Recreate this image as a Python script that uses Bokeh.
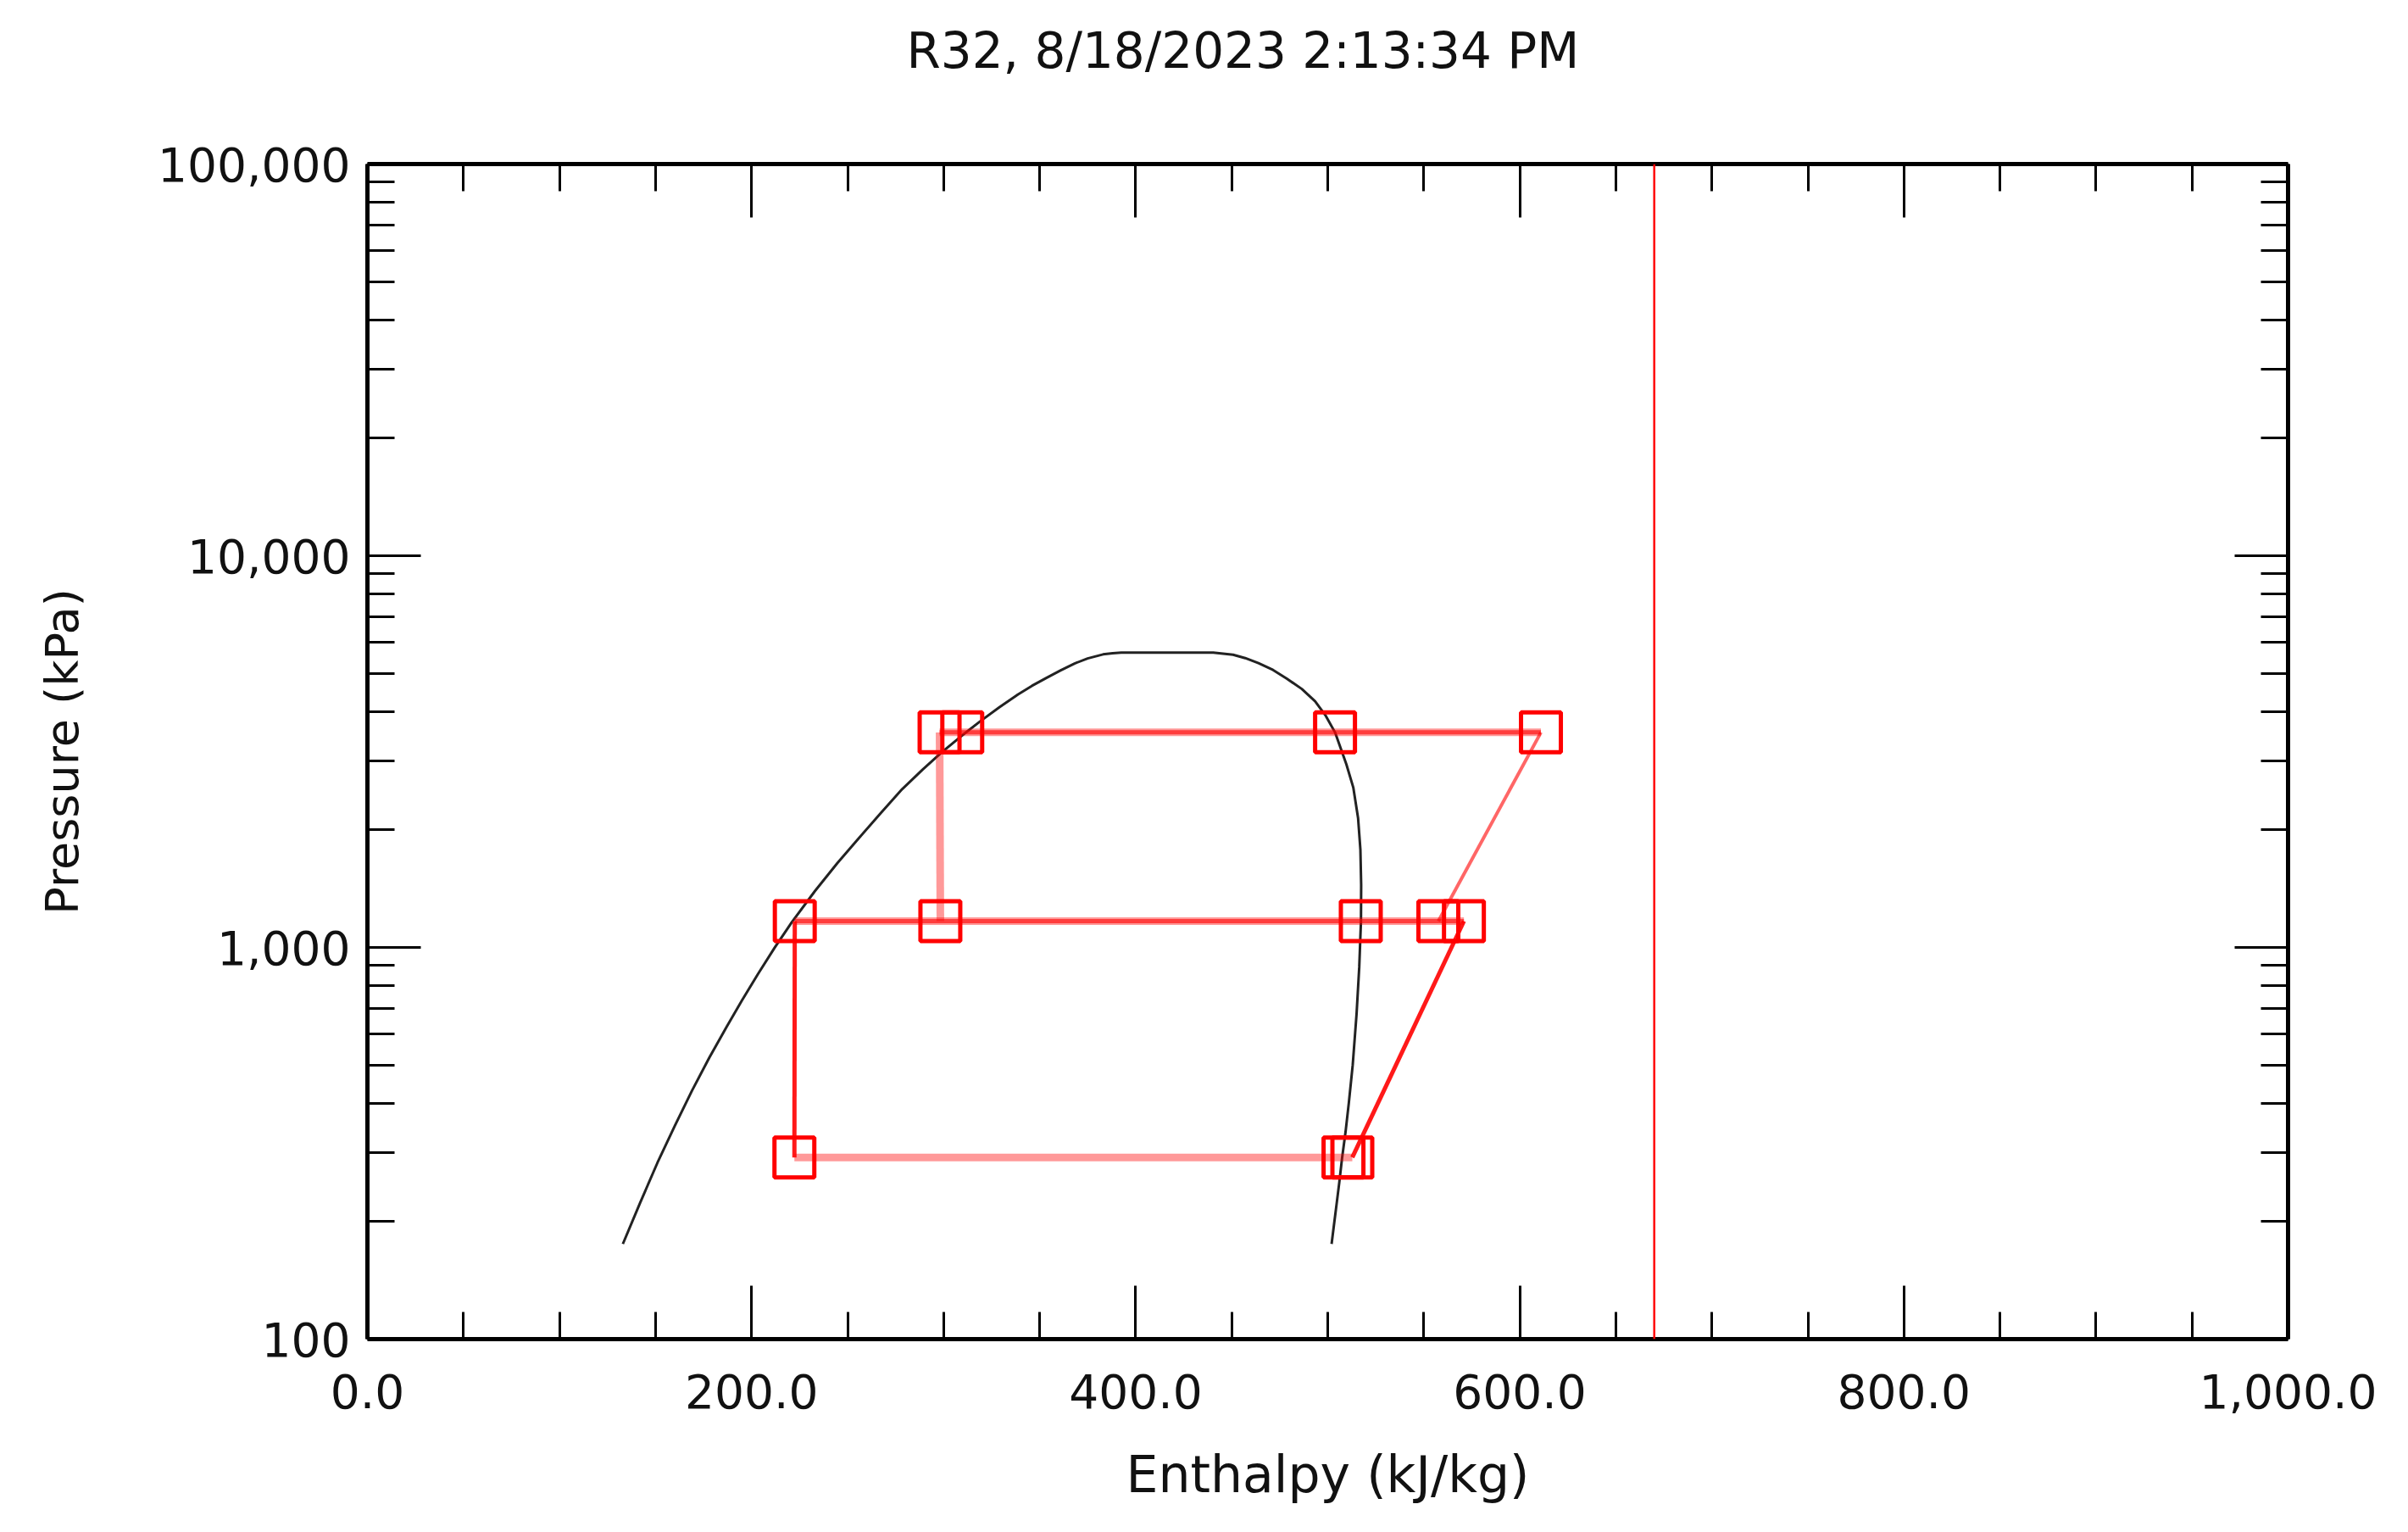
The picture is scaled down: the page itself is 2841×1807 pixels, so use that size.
from bokeh.plotting import figure
from bokeh.models import (FixedTicker, NumeralTickFormatter, LinearAxis, LogAxis,
                          Span, CustomJSTickFormatter, ColumnDataSource)
from bokeh.embed import file_html
from bokeh.resources import INLINE

# ---------------- data ----------------
title_text = "R32, 8/18/2023 2:13:34 PM"
x_label = "Enthalpy (kJ/kg)"
y_label = "Pressure (kPa)"

x_major_ticks = [0, 200, 400, 600, 800, 1000]
x_minor_ticks = [50, 100, 150, 250, 300, 350, 450, 500, 550, 650, 700, 750, 850, 900, 950]
y_major_ticks = [100, 1000, 10000, 100000]
y_minor_ticks = [200, 300, 400, 500, 600, 700, 800, 900,
                 2000, 3000, 4000, 5000, 6000, 7000, 8000, 9000,
                 20000, 30000, 40000, 50000, 60000, 70000, 80000, 90000]

# saturation dome, enthalpy kJ/kg vs pressure kPa (liquid side, then vapour side)
dome_liquid_h = [133, 142, 151, 160, 169, 178, 187, 195, 203.3, 212, 221, 233, 244.6, 256, 267,
                 278.4, 289, 299, 309.3, 319, 329, 338.8, 346, 353.5, 361, 368.2, 375, 383, 388, 392.5]
dome_liquid_p = [175, 223, 282, 350, 431, 523, 627, 732, 855, 998, 1161, 1393, 1640, 1905, 2194,
                 2535, 2843, 3147, 3467, 3776, 4102, 4429, 4655, 4877, 5100, 5308, 5469, 5600, 5640, 5660]
dome_vapour_h = [440.4, 450.7, 457.0, 463.9, 471.5, 478.7, 486.5, 493.4, 499.0, 503.8, 509.7, 513.3,
                 515.8, 517.0, 517.4, 517.3, 516.4, 515.0, 513.0, 511.0, 509.3, 507.5, 506.0, 504.6, 503.2, 502.0]
dome_vapour_p = [5660, 5590, 5480, 5319, 5110, 4855, 4570, 4250, 3900, 3540, 2935, 2561,
                 2138, 1778, 1445, 1167, 891, 676, 501, 402, 339, 291, 251, 221, 195, 175]

# cycle state points
state_h = [222.3, 508.2, 512.8, 570.9, 557.6, 517.2, 298.3, 222.5, 611.0, 503.8, 309.7, 297.9]
state_p = [291, 291, 291, 1167, 1167, 1167, 1167, 1167, 3540, 3540, 3540, 3540]

# connections between state points (index pairs)
links_strong = [(0, 7), (2, 3)]                      # expansion to low pressure, low-stage compression
links_medium = [(3, 7), (8, 11)]                     # intermediate and condenser rows
links_faint = [(0, 2), (11, 6), (7, 3), (11, 8)]     # evaporator, high expansion, rows
links_upper = [(4, 8)]                               # high-stage compression

reference_enthalpy = 670.0

# ---------------- figure ----------------
FONT = "DejaVu Sans"
TXT = "#111111"

p = figure(frame_width=2266, frame_height=1386,
           x_range=(0, 1000), y_range=(100, 100000), y_axis_type="log",
           title=title_text,
           output_backend="svg", toolbar_location=None,
           min_border_left=433, min_border_right=121,
           min_border_top=193, min_border_bottom=214,
           background_fill_color="white", border_fill_color="white",
           outline_line_color=None)
p.xgrid.visible = False
p.ygrid.visible = False

p.title.text_font = FONT
p.title.text_font_size = "58px"
p.title.text_font_style = "normal"
p.title.text_color = TXT
p.title.align = "left"
p.title.offset = 636
p.title.standoff = 0


def style_axis(ax, ticks, minor, show_labels):
    ax.ticker = FixedTicker(ticks=ticks, minor_ticks=minor)
    ax.axis_line_width = 5
    ax.axis_line_color = "black"
    ax.major_tick_in = 63
    ax.major_tick_out = 0
    ax.minor_tick_in = 32
    ax.minor_tick_out = 0
    ax.major_tick_line_width = 3
    ax.minor_tick_line_width = 3
    ax.major_tick_line_color = "black"
    ax.minor_tick_line_color = "black"
    ax.major_label_text_font = FONT
    ax.major_label_text_font_size = "55px"
    ax.major_label_text_color = TXT
    ax.axis_label_text_font = FONT
    ax.axis_label_text_font_style = "normal"
    ax.axis_label_text_color = TXT
    if not show_labels:
        ax.formatter = CustomJSTickFormatter(code="return ''")
        ax.major_label_standoff = 0


xa = p.xaxis[0]
style_axis(xa, x_major_ticks, x_minor_ticks, True)
xa.formatter = NumeralTickFormatter(format="0,0.0")
xa.major_label_standoff = 41
xa.axis_label = x_label
xa.axis_label_text_font_size = "60px"
xa.axis_label_standoff = 40

ya = p.yaxis[0]
style_axis(ya, y_major_ticks, y_minor_ticks, True)
ya.formatter = NumeralTickFormatter(format="0,0")
ya.major_label_standoff = 20
ya.axis_label = y_label
ya.axis_label_text_font_size = "54px"
ya.axis_label_standoff = 78

top_ax = LinearAxis()
style_axis(top_ax, x_major_ticks, x_minor_ticks, False)
top_ax.axis_label = "\u00a0"
top_ax.axis_label_text_font_size = "2px"
top_ax.axis_label_standoff = 95
p.add_layout(top_ax, "above")

right_ax = LogAxis()
style_axis(right_ax, y_major_ticks, y_minor_ticks, False)
p.add_layout(right_ax, "right")

# saturation dome
dome_h = dome_liquid_h + dome_vapour_h
dome_p = dome_liquid_p + dome_vapour_p
p.line(dome_h, dome_p, line_color="#222222", line_width=3)


# cycle lines
def seg_source(links):
    return ColumnDataSource(dict(
        x0=[state_h[a] for a, b in links], y0=[state_p[a] for a, b in links],
        x1=[state_h[b] for a, b in links], y1=[state_p[b] for a, b in links]))


p.segment("x0", "y0", "x1", "y1", source=seg_source(links_faint),
          line_color="red", line_alpha=0.4, line_width=9)
p.segment("x0", "y0", "x1", "y1", source=seg_source(links_medium),
          line_color="red", line_alpha=0.6, line_width=5)
p.segment("x0", "y0", "x1", "y1", source=seg_source(links_upper),
          line_color="red", line_alpha=0.6, line_width=4)
p.segment("x0", "y0", "x1", "y1", source=seg_source(links_strong),
          line_color="red", line_alpha=0.9, line_width=5)

# state point markers
p.scatter(state_h, state_p, marker="square", size=47,
          fill_color=None, line_color="red", line_width=5)

# reference enthalpy line
p.add_layout(Span(location=reference_enthalpy, dimension="height",
                  line_color="red", line_width=2.5))

open("out.html", "w").write(file_html(p, INLINE))
